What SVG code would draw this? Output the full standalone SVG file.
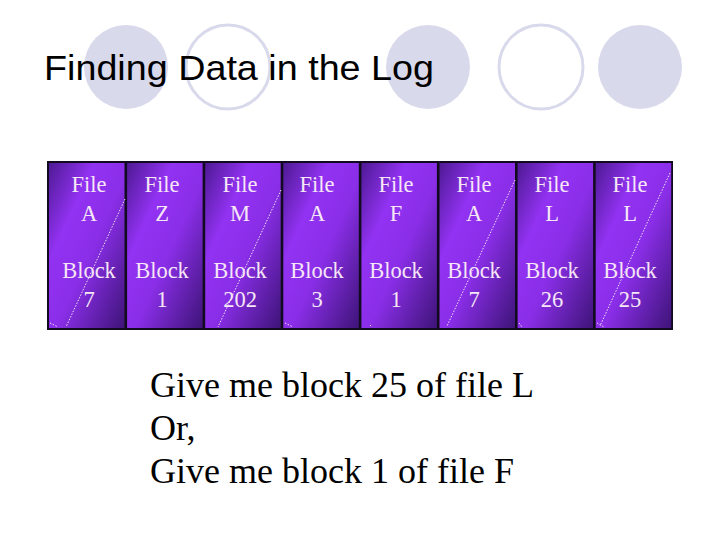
<svg xmlns="http://www.w3.org/2000/svg" width="720" height="540" viewBox="0 0 720 540">
  <defs>
    <linearGradient id="blk" x1="0" y1="0" x2="1" y2="1">
      <stop offset="0" stop-color="#4e1a94"/>
      <stop offset="0.3" stop-color="#9232f2"/>
      <stop offset="0.55" stop-color="#8a2ee8"/>
      <stop offset="1" stop-color="#3e1478"/>
    </linearGradient>
    <style>
      .deco-fill { fill: #d9d9ec; }
      .deco-ring { fill: none; stroke: #d9d9ec; stroke-width: 3; }
      .title { font-family: "Liberation Sans", Arial, sans-serif; font-size: 35px; fill: #000; }
      .cell { fill: url(#blk); }
      .lbl { font-family: "Liberation Serif", "Times New Roman", serif; font-size: 22.5px; fill: #f6e6f6; text-anchor: middle; }
      .dots { stroke: #f0e0f8; stroke-width: 1; stroke-dasharray: 1.5 1.5; fill: none; }
      .body { font-family: "Liberation Serif", "Times New Roman", serif; font-size: 36px; fill: #000; }
    </style>
  </defs>
  <rect width="720" height="540" fill="#fff"/>

  <g id="decoration">
    <circle class="deco-fill" cx="126" cy="67" r="42"/>
    <circle class="deco-ring" cx="228" cy="67" r="42"/>
    <circle class="deco-fill" cx="428" cy="67" r="42"/>
    <circle class="deco-ring" cx="541" cy="67" r="42"/>
    <circle class="deco-fill" cx="640" cy="67" r="42"/>
  </g>

  <text id="title" class="title" x="44" y="80" textLength="390" lengthAdjust="spacingAndGlyphs">Finding Data in the Log</text>

  <g id="log">
    <rect x="47" y="161" width="626" height="169" fill="#120a1e"/>

    <g id="block1">
      <rect class="cell" x="49" y="163" width="75.5" height="165"/>
      <text class="lbl" x="89" y="192">File</text>
      <text class="lbl" x="89" y="221">A</text>
      <text class="lbl" x="89" y="278">Block</text>
      <text class="lbl" x="89" y="307">7</text>
      <path class="dots" d="M125 199 L66 327 M50 323 L58 327"/>
    </g>
    <g id="block2">
      <rect class="cell" x="127.1" y="163" width="75.5" height="165"/>
      <text class="lbl" x="162" y="192">File</text>
      <text class="lbl" x="162" y="221">Z</text>
      <text class="lbl" x="162" y="278">Block</text>
      <text class="lbl" x="162" y="307">1</text>
    </g>
    <g id="block3">
      <rect class="cell" x="205.2" y="163" width="75.5" height="165"/>
      <text class="lbl" x="240" y="192">File</text>
      <text class="lbl" x="240" y="221">M</text>
      <text class="lbl" x="240" y="278">Block</text>
      <text class="lbl" x="240" y="307">202</text>
      <path class="dots" d="M281 190 L218 327"/>
    </g>
    <g id="block4">
      <rect class="cell" x="283.3" y="163" width="75.5" height="165"/>
      <text class="lbl" x="317" y="192">File</text>
      <text class="lbl" x="317" y="221">A</text>
      <text class="lbl" x="317" y="278">Block</text>
      <text class="lbl" x="317" y="307">3</text>
      <path class="dots" d="M285 323 L293 327"/>
    </g>
    <g id="block5">
      <rect class="cell" x="361.4" y="163" width="75.5" height="165"/>
      <text class="lbl" x="396" y="192">File</text>
      <text class="lbl" x="396" y="221">F</text>
      <text class="lbl" x="396" y="278">Block</text>
      <text class="lbl" x="396" y="307">1</text>
      <path class="dots" d="M370 325 L372 327"/>
    </g>
    <g id="block6">
      <rect class="cell" x="439.5" y="163" width="75.5" height="165"/>
      <text class="lbl" x="474" y="192">File</text>
      <text class="lbl" x="474" y="221">A</text>
      <text class="lbl" x="474" y="278">Block</text>
      <text class="lbl" x="474" y="307">7</text>
      <path class="dots" d="M515 180 L447 326"/>
    </g>
    <g id="block7">
      <rect class="cell" x="517.6" y="163" width="75.5" height="165"/>
      <text class="lbl" x="552" y="192">File</text>
      <text class="lbl" x="552" y="221">L</text>
      <text class="lbl" x="552" y="278">Block</text>
      <text class="lbl" x="552" y="307">26</text>
      <path class="dots" d="M519 323 L522 327"/>
    </g>
    <g id="block8">
      <rect class="cell" x="595.7" y="163" width="75.5" height="165"/>
      <text class="lbl" x="630" y="192">File</text>
      <text class="lbl" x="630" y="221">L</text>
      <text class="lbl" x="630" y="278">Block</text>
      <text class="lbl" x="630" y="307">25</text>
      <path class="dots" d="M670 173 L600 326 M597 323 L604 327"/>
    </g>
  </g>

  <g id="request">
    <text class="body" x="150" y="397">Give me block 25 of file L</text>
    <text class="body" x="150" y="440">Or,</text>
    <text class="body" x="150" y="483">Give me block 1 of file F</text>
  </g>
</svg>
